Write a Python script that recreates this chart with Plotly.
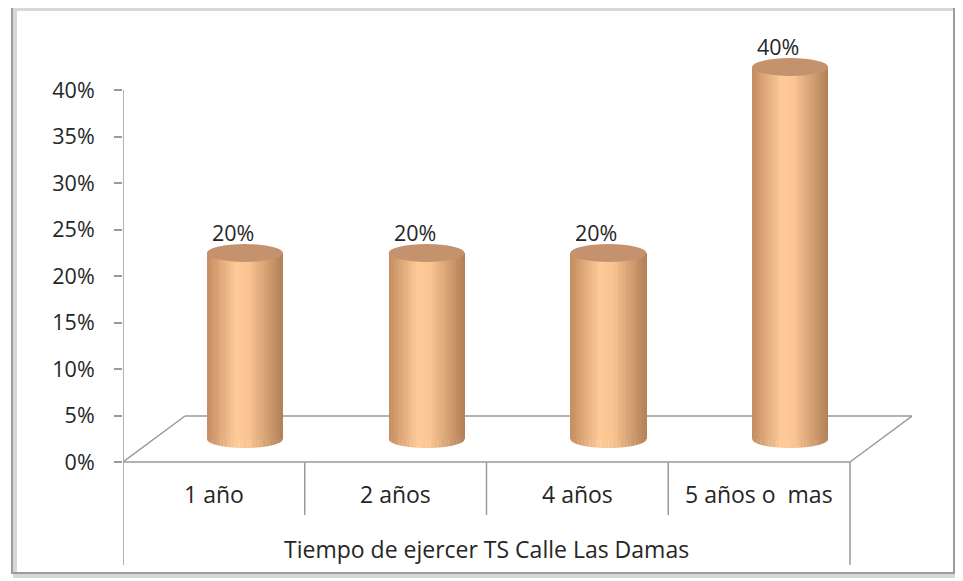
import plotly.graph_objects as go
import numpy as np

categories = ["1 año", "2 años", "4 años", "5 años o  mas"]
values = [0.20, 0.20, 0.20, 0.40]
tick_vals = [0.0, 0.05, 0.10, 0.15, 0.20, 0.25, 0.30, 0.35, 0.40]
tick_text = ["0%", "5%", "10%", "15%", "20%", "25%", "30%", "35%", "40%"]
axis_title = "Tiempo de ejercer TS Calle Las Damas"

OFF = 8  # browser body margin
W, H = 963 - OFF, 581 - OFF
def s(p):
    return p - OFF

L, R, T, B = s(123), s(912), s(40), s(570)
KX = 181.75           # px per category unit
KY = 930.0            # px per unit of value
Y0_PX = 462           # screen row of 0 on the wall axis
DEPTH_X, DEPTH_Y = 62, 46   # floor depth offset in px

xr = [-0.5, -0.5 + (R - L) / KX]
yr = [-(s(570) - s(Y0_PX)) / KY, (s(Y0_PX) - T) / KY]
xr2 = [v - (DEPTH_X / 2) / KX for v in xr]
yr2 = [v - (DEPTH_Y / 2) / KY for v in yr]

xpos = list(range(len(categories)))
cyl_w = 76 / KX
ry = 9 / KY
K = 28

def shade(u):
    stops = [(0.0, (196, 140, 96)), (0.38, (254, 202, 152)), (0.55, (250, 196, 146)), (1.0, (178, 128, 86))]
    for (a, ca), (b, cb) in zip(stops[:-1], stops[1:]):
        if a <= u <= b:
            t = (u - a) / (b - a)
            c = [int(round(ca[i] + (cb[i] - ca[i]) * t)) for i in range(3)]
            return "rgb(%d,%d,%d)" % tuple(c)
    return "rgb(178,128,86)"

fig = go.Figure()
shapes = []
for k in range(K):
    u = (k + 0.5) / K
    col = shade(u)
    fig.add_trace(go.Bar(
        x=xpos, y=values, xaxis="x2", yaxis="y2",
        width=cyl_w / K * 1.08, offset=-cyl_w / 2 + k * cyl_w / K,
        marker=dict(color=col, line=dict(width=0)),
        showlegend=False, hoverinfo="skip"))
    for c in xpos:
        xa = c - cyl_w / 2 + k * cyl_w / K
        xb = min(xa + cyl_w / K * 1.08, c + cyl_w / 2)
        xs = np.linspace(xa, xb, 5)
        pts = []
        for xv in xs:
            uu = max(0.0, 1 - ((xv - c) / (cyl_w / 2)) ** 2)
            pts.append((xv, -ry * np.sqrt(uu)))
        path = "M %f,0 " % xa + " ".join("L %f,%f" % p for p in pts) + " L %f,0 Z" % xs[-1]
        shapes.append(dict(type="path", path=path, xref="x2", yref="y2",
                           fillcolor=col, line=dict(width=0), layer="above"))

# top ellipses
for c, v in zip(xpos, values):
    shapes.append(dict(type="circle", xref="x2", yref="y2",
                       x0=c - cyl_w / 2, x1=c + cyl_w / 2, y0=v - ry, y1=v + ry,
                       fillcolor="rgb(196,146,108)", line=dict(width=0), layer="above"))

# floor outline
dx, dy = DEPTH_X / KX, DEPTH_Y / KY
gl = dict(color="#9a9a9a", width=1.5)
n = len(categories)
for (xa, ya, xb, yb) in [(-0.5, 0, n - 0.5, 0), (-0.5 + dx, dy, n - 0.5 + dx, dy),
                         (-0.5, 0, -0.5 + dx, dy), (n - 0.5, 0, n - 0.5 + dx, dy)]:
    shapes.append(dict(type="line", xref="x", yref="y", x0=xa, y0=ya, x1=xb, y1=yb,
                       line=gl, layer="below"))
shapes.append(dict(type="line", xref="x", yref="y", x0=-0.5, x1=-0.5, y0=0, y1=max(tick_vals),
                   line=gl, layer="below"))
for i in range(n + 1):
    xv = i - 0.5
    yb = -(565 - Y0_PX) / KY if i in (0, n) else -(515 - Y0_PX) / KY
    shapes.append(dict(type="line", xref="x", yref="y", x0=xv, x1=xv, y0=0, y1=yb,
                       line=gl, layer="below"))

# frame
def px(xp):
    return (s(xp) - L) / (R - L)
def py(yp):
    return (B - s(yp)) / (B - T)
shapes.append(dict(type="rect", xref="paper", yref="paper", x0=px(15), x1=px(957), y0=py(9), y1=py(576),
                   line=dict(color="#d8d8d8", width=4), layer="below"))
shapes.append(dict(type="rect", xref="paper", yref="paper", x0=px(12), x1=px(954), y0=py(6), y1=py(573),
                   line=dict(color="#9c9c9c", width=2), layer="below"))

font = "'Open Sans', sans-serif"
FS_TXT = 23
FS_NUM = 21.5
annotations = []
for c, lab in zip(xpos, categories):
    annotations.append(dict(x=c, y=-(494 - Y0_PX) / KY, xref="x", yref="y", text=lab,
                            showarrow=False, font=dict(size=FS_TXT, color="#262626", family=font)))
annotations.append(dict(x=(n - 1) / 2, y=-(549 - Y0_PX) / KY, xref="x", yref="y", text=axis_title,
                        showarrow=False, font=dict(size=FS_TXT, color="#262626", family=font)))
for c, v in zip(xpos, values):
    annotations.append(dict(x=c, y=v, xref="x2", yref="y2", text="%d%%" % round(v * 100),
                            showarrow=False, yshift=21, xshift=-12,
                            font=dict(size=FS_NUM, color="#262626", family=font)))

fig.update_layout(
    width=W, height=H,
    margin=dict(l=L, r=W - R, t=T, b=H - B, autoexpand=False),
    paper_bgcolor="white", plot_bgcolor="rgba(0,0,0,0)",
    barmode="overlay", bargap=0,
    shapes=shapes, annotations=annotations, showlegend=False,
    xaxis=dict(range=xr, visible=False, fixedrange=True),
    yaxis=dict(range=yr, tickvals=tick_vals, ticktext=tick_text, ticks="outside", ticklen=8,
               tickcolor="#9a9a9a", tickwidth=1.5, showgrid=False, zeroline=False, showline=False,
               ticklabelstandoff=15, tickfont=dict(size=FS_NUM, color="#262626", family=font),
               automargin=False, fixedrange=True),
    xaxis2=dict(range=xr2, overlaying="x", visible=False, fixedrange=True),
    yaxis2=dict(range=yr2, overlaying="y", visible=False, fixedrange=True),
)

fig.write_html("out.html")
